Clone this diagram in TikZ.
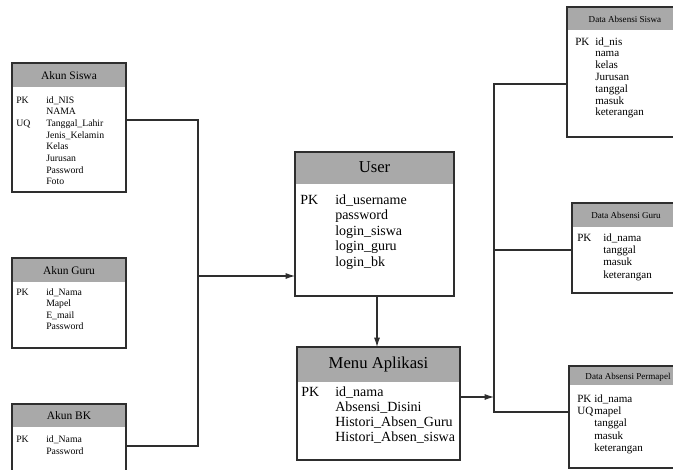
\documentclass[tikz,border=0pt]{standalone}
\usepackage{fontspec}
\setmainfont{Liberation Serif}
\usetikzlibrary{fit,arrows.meta}
\definecolor{ln}{HTML}{2E2E2E}
\definecolor{hd}{HTML}{A9A9A9}
\begin{document}
\begin{tikzpicture}[x=0.75pt,y=-0.75pt,
  tbox/.style={draw=ln,line width=0.8pt,inner sep=0pt,outer sep=0pt},
  thead/.style={fill=hd,draw=none,inner sep=0pt,outer sep=0pt},
  conn/.style={draw=ln,line width=0.8pt},
  arr/.style={conn,-{Latex[length=7pt,width=4.5pt]}},
  sT/.style={font=\fontsize{8.6}{10}\selectfont,anchor=mid,inner sep=0pt},
  sI/.style={font=\fontsize{7.3}{9}\selectfont,anchor=mid west,inner sep=0pt},
  bT/.style={font=\fontsize{12.5}{14}\selectfont,anchor=mid,inner sep=0pt},
  bI/.style={font=\fontsize{10.5}{12}\selectfont,anchor=mid west,inner sep=0pt},
  rT/.style={font=\fontsize{6.8}{8}\selectfont,anchor=mid,inner sep=0pt},
  rI/.style={font=\fontsize{8.3}{10}\selectfont,anchor=mid west,inner sep=0pt}]
\useasboundingbox (0,0) rectangle (673,470);
\clip (0,0) rectangle (673,470);

% ---- Akun Siswa
\node[thead,fit={(12,63)(126,87)}] (siswaH) {};
\node[tbox,fit={(12,63)(126,192)}] (siswa) {};
\node[sT] (siswaT) at (69,76) {Akun Siswa};
\node[sI] (siswaPK) at (16,100) {PK};
\node[sI] (siswaUQ) at (16,123.4) {UQ};
\foreach[count=\i] \t in {id\_NIS,NAMA,Tanggal\_Lahir,Jenis\_Kelamin,Kelas,Jurusan,Password,Foto}
  \node[sI] (siswa\i) at (46,{100+(\i-1)*11.7}) {\t};

% ---- Akun Guru
\node[thead,fit={(12,258)(126,282)}] (guruH) {};
\node[tbox,fit={(12,258)(126,348)}] (guru) {};
\node[sT] (guruT) at (69,271) {Akun Guru};
\node[sI] (guruPK) at (16,292) {PK};
\foreach[count=\i] \t in {id\_Nama,Mapel,E\_mail,Password}
  \node[sI] (guru\i) at (46,{292+(\i-1)*11.6}) {\t};

% ---- Akun BK
\node[thead,fit={(12,404)(126,427)}] (bkH) {};
\node[tbox,fit={(12,404)(126,490)}] (bk) {};
\node[sT] (bkT) at (69,416) {Akun BK};
\node[sI] (bkPK) at (16,439) {PK};
\foreach[count=\i] \t in {id\_Nama,Password}
  \node[sI] (bk\i) at (46,{439+(\i-1)*12}) {\t};

% ---- User
\node[thead,fit={(295,152)(454,184)}] (userH) {};
\node[tbox,fit={(295,152)(454,296)}] (user) {};
\node[bT] (userT) at (374.5,169) {User};
\node[bI] (userPK) at (300,201) {PK};
\foreach[count=\i] \t in {id\_username,password,login\_siswa,login\_guru,login\_bk}
  \node[bI] (user\i) at (335,{201+(\i-1)*15.5}) {\t};

% ---- Menu Aplikasi
\node[thead,fit={(297,347)(460,382)}] (menuH) {};
\node[tbox,fit={(297,347)(460,460)}] (menu) {};
\node[bT] (menuT) at (378.5,365) {Menu Aplikasi};
\node[bI] (menuPK) at (301,393) {PK};
\foreach[count=\i] \t in {id\_nama,Absensi\_Disini,Histori\_Absen\_Guru,Histori\_Absen\_siswa}
  \node[bI] (menu\i) at (335,{393+(\i-1)*15.3}) {\t};

% ---- Data Absensi Siswa
\node[thead,fit={(567,7)(683,30)}] (dsiswaH) {};
\node[tbox,fit={(567,7)(683,137)}] (dsiswa) {};
\node[rT] (dsiswaT) at (625,19) {Data Absensi Siswa};
\node[rI] (dsiswaPK) at (575,42) {PK};
\foreach[count=\i] \t in {id\_nis,nama,kelas,Jurusan,tanggal,masuk,keterangan}
  \node[rI] (dsiswa\i) at (595,{42+(\i-1)*11.8}) {\t};

% ---- Data Absensi Guru
\node[thead,fit={(572,203)(683,227)}] (dguruH) {};
\node[tbox,fit={(572,203)(683,293)}] (dguru) {};
\node[rT] (dguruT) at (626,215) {Data Absensi Guru};
\node[rI] (dguruPK) at (577,238) {PK};
\foreach[count=\i] \t in {id\_nama,tanggal,masuk,keterangan}
  \node[rI] (dguru\i) at (603,{238+(\i-1)*12.4}) {\t};

% ---- Data Absensi Permapel
\node[thead,fit={(569,366)(683,385)}] (dperH) {};
\node[tbox,fit={(569,366)(683,468)}] (dper) {};
\node[rT] (dperT) at (628,376) {Data Absensi Permapel};
\node[rI] (dperPK) at (577,399) {PK};
\node[rI] (dperUQ) at (577,411.4) {UQ};
\foreach[count=\i] \t in {id\_nama,mapel,tanggal,masuk,keterangan}
  \node[rI] (dper\i) at (594,{399+(\i-1)*12.4}) {\t};

% ---- connectors
\coordinate (bL1) at (198,120);
\coordinate (bL2) at (198,446);
\coordinate (bLm) at (198,276);
\draw[conn] (siswa.east |- bL1) -- (bL1) -- (bL2) -- (bk.east |- bL2);
\draw[arr] (bLm) -- (user.west |- bLm);

\coordinate (ud) at (377,0);
\draw[arr] (user.south -| ud) -- (menu.north -| ud);

\coordinate (bR1) at (494,84);
\coordinate (bR2) at (494,250);
\coordinate (bR3) at (494,412);
\coordinate (bRm) at (494,397);
\draw[arr] (menu.east |- bRm) -- (bRm);
\draw[conn] (dsiswa.west |- bR1) -- (bR1) -- (bR3) -- (dper.west |- bR3);
\draw[conn] (bR2) -- (dguru.west |- bR2);
\end{tikzpicture}
\end{document}
